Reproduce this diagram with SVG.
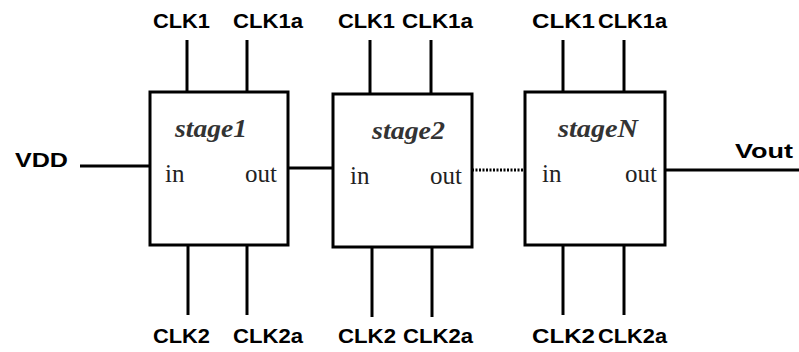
<svg xmlns="http://www.w3.org/2000/svg" width="799" height="352" viewBox="0 0 799 352">
<style>
.box{fill:#fff;stroke:#000;stroke-width:3}
.pin{stroke:#000;stroke-width:3;fill:none}
.wire{stroke:#000;stroke-width:3;fill:none}
.lbl{font-family:"Liberation Sans",Arial,sans-serif;font-weight:bold;font-size:20px;fill:#000}
.stg{font-family:"Liberation Serif","Times New Roman",serif;font-weight:bold;font-style:italic;font-size:26px;fill:#333}
.port{font-family:"Liberation Serif","Times New Roman",serif;font-size:25px;fill:#222}
</style>
<rect width="799" height="352" fill="#fff"/>
<g id="connectors">
<line class="wire" x1="80" y1="166" x2="150" y2="166"/>
<line class="wire" x1="288" y1="168" x2="333" y2="168"/>
<line class="wire" x1="472" y1="170" x2="525" y2="170" stroke-dasharray="2,1.5" stroke-width="2.5"/>
<line class="wire" x1="665" y1="170" x2="799" y2="170" stroke-width="3.5"/>
</g>
<g id="vdd"><text class="lbl" x="15" y="167" textLength="53" lengthAdjust="spacingAndGlyphs">VDD</text></g>
<g id="vout"><text class="lbl" x="735" y="158" textLength="58" lengthAdjust="spacingAndGlyphs">Vout</text></g>
<g id="stage1">
<line class="pin" x1="187" y1="40" x2="187" y2="92"/>
<line class="pin" x1="247" y1="40" x2="247" y2="92"/>
<line class="pin" x1="188" y1="245" x2="188" y2="315"/>
<line class="pin" x1="247" y1="245" x2="247" y2="315"/>
<rect class="box" x="150" y="92" width="138" height="153"/>
<text class="stg" x="175" y="137" textLength="72" lengthAdjust="spacingAndGlyphs">stage1</text>
<text class="port" x="165" y="182">in</text>
<text class="port" x="245" y="182">out</text>
<text class="lbl" x="153" y="28" textLength="57" lengthAdjust="spacingAndGlyphs">CLK1</text>
<text class="lbl" x="233" y="28" textLength="70" lengthAdjust="spacingAndGlyphs">CLK1a</text>
<text class="lbl" x="153" y="343" textLength="57" lengthAdjust="spacingAndGlyphs">CLK2</text>
<text class="lbl" x="233" y="343" textLength="70" lengthAdjust="spacingAndGlyphs">CLK2a</text>
</g>
<g id="stage2">
<line class="pin" x1="370" y1="40" x2="370" y2="94"/>
<line class="pin" x1="431" y1="40" x2="431" y2="94"/>
<line class="pin" x1="372" y1="247" x2="372" y2="317"/>
<line class="pin" x1="432" y1="247" x2="432" y2="317"/>
<rect class="box" x="333" y="94" width="139" height="153"/>
<text class="stg" x="372" y="139" textLength="73" lengthAdjust="spacingAndGlyphs">stage2</text>
<text class="port" x="350" y="184">in</text>
<text class="port" x="430" y="184">out</text>
<text class="lbl" x="338" y="28" textLength="57" lengthAdjust="spacingAndGlyphs">CLK1</text>
<text class="lbl" x="402" y="28" textLength="71" lengthAdjust="spacingAndGlyphs">CLK1a</text>
<text class="lbl" x="338" y="343" textLength="58" lengthAdjust="spacingAndGlyphs">CLK2</text>
<text class="lbl" x="403" y="343" textLength="70" lengthAdjust="spacingAndGlyphs">CLK2a</text>
</g>
<g id="stageN">
<line class="pin" x1="563" y1="40" x2="563" y2="92"/>
<line class="pin" x1="624" y1="40" x2="624" y2="92"/>
<line class="pin" x1="563" y1="245" x2="563" y2="315"/>
<line class="pin" x1="624" y1="245" x2="624" y2="315"/>
<rect class="box" x="525" y="92" width="140" height="153"/>
<text class="stg" x="558" y="137" textLength="80" lengthAdjust="spacingAndGlyphs">stageN</text>
<text class="port" x="542" y="182">in</text>
<text class="port" x="625" y="182">out</text>
<text class="lbl" x="532" y="28" textLength="63" lengthAdjust="spacingAndGlyphs">CLK1</text>
<text class="lbl" x="598" y="28" textLength="69" lengthAdjust="spacingAndGlyphs">CLK1a</text>
<text class="lbl" x="532" y="343" textLength="63" lengthAdjust="spacingAndGlyphs">CLK2</text>
<text class="lbl" x="598" y="343" textLength="69" lengthAdjust="spacingAndGlyphs">CLK2a</text>
</g>
</svg>
